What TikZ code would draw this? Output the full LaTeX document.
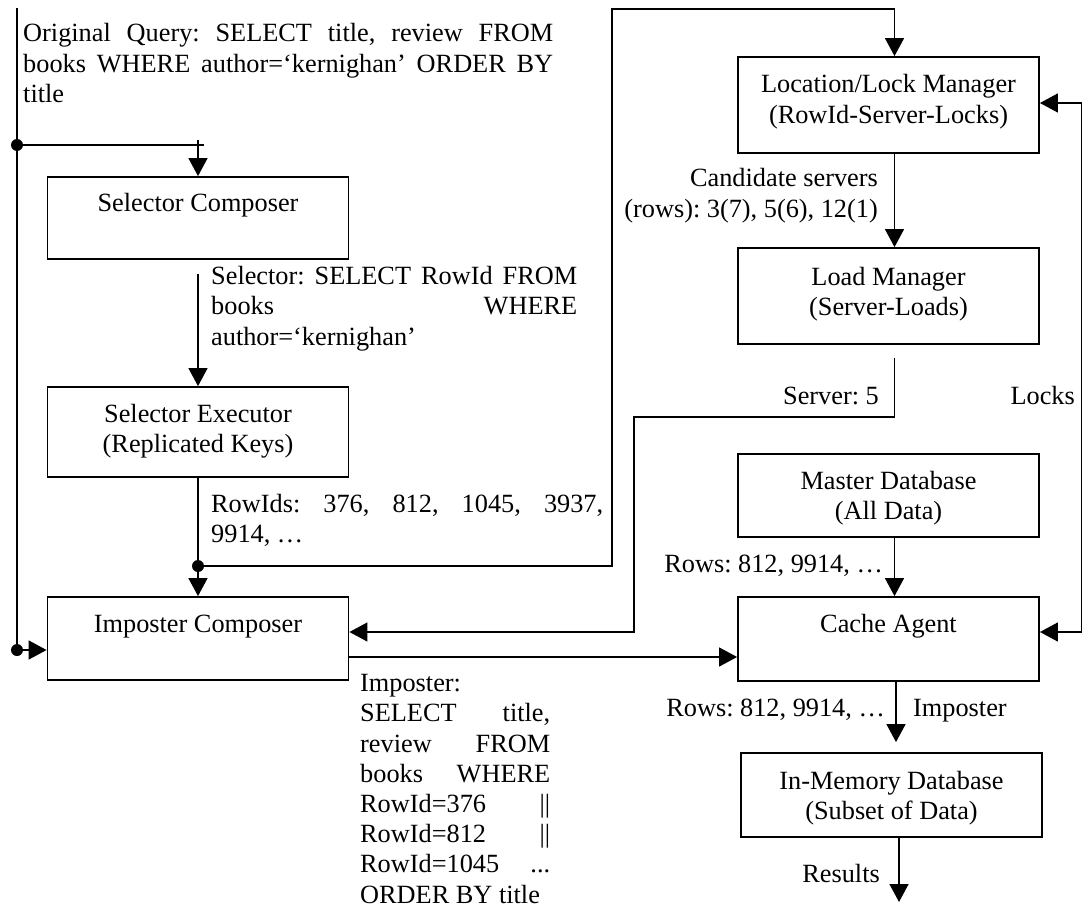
\documentclass[tikz,border=0pt]{standalone}
\usepackage{fontspec}
\setmainfont{Liberation Serif}
\usetikzlibrary{arrows.meta}
% one justified line of a fixed width
\newcommand\jline[2]{\makebox[#1][s]{#2}}
\frenchspacing
\begin{document}
\begin{tikzpicture}[x=1pt,y=-1pt,
  every node/.style={font=\fontsize{26.3pt}{30.5pt}\selectfont, inner sep=0pt},
  box/.style={draw, line width=1.8pt, minimum width=301pt, align=center},
  flow/.style={line width=1.3pt},
  tip/.tip={Triangle[length=18pt,width=19pt]},
  arr/.style={flow, -tip},
  dot/.style={circle, fill, inner sep=0pt, minimum size=12pt},
]
\fill[white] (0,0) rectangle (1083,909);
\useasboundingbox (0,0) rectangle (1083,909);

% components (base = baseline of the last text line)
\node[box, text height=35pt, text depth=47pt, anchor=base] (selcomp) at (198,212) {Selector Composer};
\node[box, text height=65.5pt, text depth=24.5pt, anchor=base] (selexec) at (198,452.5) {Selector Executor\\(Replicated Keys)};
\node[box, text height=35pt, text depth=48pt, anchor=base] (impcomp) at (198,632) {Imposter Composer};
\node[box, text height=66.5pt, text depth=29.5pt, anchor=base] (locmgr) at (888.5,123.5) {Location/Lock Manager\\(RowId-Server-Locks)};
\node[box, text height=67.5pt, text depth=28.5pt, anchor=base] (loadmgr) at (888.5,315.5) {Load Manager\\(Server-Loads)};
\node[box, text height=65.5pt, text depth=17.5pt, anchor=base] (master) at (888.5,519.5) {Master Database\\(All Data)};
\node[box, text height=35pt, text depth=49pt, anchor=base] (cache) at (888.5,632) {Cache Agent};
\node[box, text height=66.5pt, text depth=17.5pt, anchor=base] (inmem) at (891.5,819.5) {In-Memory Database\\(Subset of Data)};

% message labels (base = baseline of the last text line)
\node[anchor=base west, align=left] (origq) at (23,103)
  {\jline{530pt}{Original Query: SELECT title, review FROM}\\
   \jline{530pt}{books WHERE author=‘kernighan’ ORDER BY}\\title};
\node[anchor=base west, align=left] (selq) at (211,345)
  {\jline{366pt}{Selector: SELECT RowId FROM}\\
   \jline{366pt}{books WHERE}\\author=‘kernighan’};
\node[anchor=base west, align=left] (rowids) at (211,542.5)
  {\jline{392pt}{RowIds: 376, 812, 1045, 3937,}\\9914, …};
\node[anchor=base west, align=left, font=\fontsize{26.3pt}{30.2pt}\selectfont] (impq) at (360,903)
  {Imposter:\\
   \jline{190pt}{SELECT title,}\\
   \jline{190pt}{review FROM}\\
   \jline{190pt}{books WHERE}\\
   \jline{190pt}{RowId=376 ||}\\
   \jline{190pt}{RowId=812 ||}\\
   \jline{190pt}{RowId=1045 ...}\\
   ORDER BY title};
\node[anchor=base east, align=right] (cand) at (878,217.5) {Candidate servers\\(rows): 3(7), 5(6), 12(1)};
\node[anchor=base east] (srv) at (879,404) {Server: 5};
\node[anchor=base east] (locks) at (1075,404) {Locks};
\node[anchor=base east] (rowsa) at (883,572) {Rows: 812, 9914, …};
\node[anchor=base east] (rowsb) at (885,716) {Rows: 812, 9914, …};
\node[anchor=base west] (impl) at (913,716) {Imposter};
\node[anchor=base east] (res) at (880,882) {Results};

% routing points
\coordinate (qtop) at (17,8);
\coordinate (j1end) at (204,145);
\coordinate (tick) at (198,140);
\coordinate (c1) at (612,566);
\coordinate (c2) at (612,9);
\coordinate (c3) at (894.5,9);
\coordinate (s1) at (894.5,417);
\coordinate (s2) at (634,417);
\coordinate (s3) at (634,632);
\coordinate (improw) at (0,657);
\coordinate (l1) at (1081.5,103);
\coordinate (l2) at (1081.5,632);
\coordinate (c4) at (896,0);
\coordinate (rend) at (899,902);

% junction dots
\node[dot] (j1) at (17,145) {};
\node[dot] (j2) at (17,650) {};
\node[dot] (j3) at (198,566) {};

% original query distribution
\draw[flow] (qtop) -- (j2.center);
\draw[flow] (j1.center) -- (j1end);
\draw[arr] (tick) -- (selcomp.north);
\draw[arr] (j2.center) -- (j2.center -| impcomp.west);

% selector path
\draw[arr, shorten <=14pt] (selcomp.south) -- (selexec.north);
\draw[flow] (selexec.south) -- (j3.center);
\draw[arr] (j3.center) -- (impcomp.north);
\draw[arr] (j3.center) -- (c1) -- (c2) -- (c3) -- (c3 |- locmgr.north);

% server selection
\draw[arr] (c3 |- locmgr.south) -- (c3 |- loadmgr.north);
\draw[arr, shorten <=13pt] (c3 |- loadmgr.south) -- (s1) -- (s2) -- (s3) -- (s3 -| impcomp.east);

% data and imposter flow
\draw[arr] (c3 |- master.south) -- (c3 |- cache.north);
\draw[arr] (impcomp.east |- improw) -- (cache.west |- improw);
\draw[flow, tip-tip] (locmgr.east |- l1) -- (l1) -- (l2) -- (cache.east |- l2);
\draw[arr, shorten >=10pt] (c4 |- cache.south) -- (c4 |- inmem.north);
\draw[arr] (inmem.south -| rend) -- (rend);
\end{tikzpicture}
\end{document}
